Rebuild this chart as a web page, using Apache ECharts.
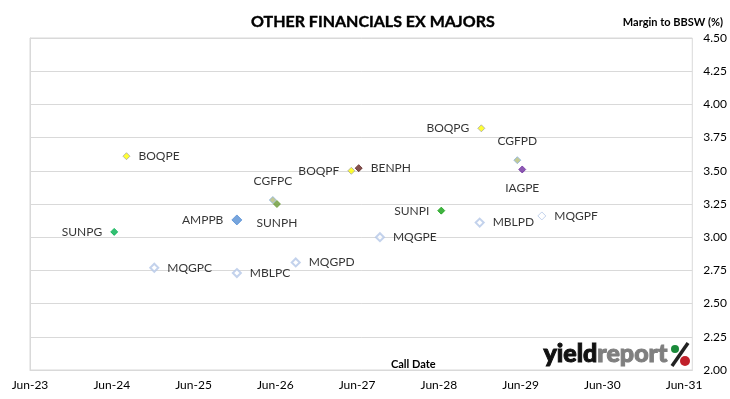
<!DOCTYPE html>
<html>
<head>
<meta charset="utf-8">
<script src="https://cdn.jsdelivr.net/npm/echarts@6/dist/echarts.min.js"></script>
<style>
  html, body { margin: 0; padding: 0; background: #fff; }
  #chart { width: 730px; height: 399px; }
</style>
</head>
<body>
<div id="chart"></div>
<script>
// call date as decimal year, margin to BBSW in %
const names = ['BOQPE', 'BOQPF', 'BENPH', 'CGFPC', 'SUNPH', 'AMPPB', 'SUNPG', 'MQGPC', 'MBLPC',
  'MQGPD', 'BOQPG', 'CGFPD', 'IAGPE', 'SUNPI', 'MBLPD', 'MQGPF', 'MQGPE']
const callDates = [2024.68, 2027.43, 2027.52, 2026.47, 2026.52, 2026.03, 2024.53, 2025.02, 2026.03,
  2026.75, 2029.02, 2029.46, 2029.52, 2028.53, 2029.00, 2029.76, 2027.78]
const margins = [3.61, 3.50, 3.52, 3.28, 3.25, 3.13, 3.04, 2.77, 2.73,
  2.81, 3.82, 3.58, 3.51, 3.20, 3.11, 3.16, 3.00]
const xTickLabels = ['Jun-23', 'Jun-24', 'Jun-25', 'Jun-26', 'Jun-27', 'Jun-28', 'Jun-29', 'Jun-30', 'Jun-31']
const baseYear = 2023.5

const FONT = 'Lato'

// marker look + label side per issuer
const yellow = { fill: '#ffff00', border: '#a6a6a6', size: 7, bw: 1 }
const hollow = { fill: '#ffffff', border: '#b4c7e7', size: 8, bw: 2 }
const styles = {
  BOQPE: { ...yellow, side: 'right' },
  BOQPF: { ...yellow, side: 'left' },
  BOQPG: { ...yellow, side: 'left' },
  BENPH: { fill: '#632523', border: '#632523', size: 7, bw: 1, side: 'right' },
  CGFPC: { fill: '#b3bd7a', border: '#8db4e2', size: 7, bw: 1, side: 'top' },
  CGFPD: { fill: '#b3bd7a', border: '#8db4e2', size: 7, bw: 1, side: 'top' },
  SUNPH: { fill: '#6a9a36', border: '#6a9a36', size: 7, bw: 1, side: 'bottom' },
  AMPPB: { fill: '#558ed5', border: '#558ed5', size: 10, bw: 1, side: 'left' },
  SUNPG: { fill: '#00b050', border: '#00b050', size: 7, bw: 1, side: 'left' },
  SUNPI: { fill: '#12a012', border: '#12a012', size: 7, bw: 1, side: 'left' },
  IAGPE: { fill: '#7030a0', border: '#7030a0', size: 7, bw: 1, side: 'bottom' },
  MQGPC: { ...hollow, side: 'right' },
  MBLPC: { ...hollow, side: 'right' },
  MQGPD: { ...hollow, side: 'right' },
  MQGPE: { ...hollow, side: 'right' },
  MBLPD: { ...hollow, side: 'right' },
  MQGPF: { ...hollow, bw: 1, side: 'right' },
}

const points = names.map((name, i) => {
  const s = styles[name]
  const vertical = s.side === 'top' || s.side === 'bottom'
  return {
    name,
    value: [callDates[i] - baseYear, margins[i]],
    symbolSize: s.size,
    itemStyle: { color: s.fill, borderColor: s.border, borderWidth: s.bw },
    label: { position: s.side, distance: vertical ? 9 : 8 },
  }
})

const chart = echarts.init(document.getElementById('chart'), null, { renderer: 'canvas' })

chart.setOption({
  animation: false,
  textStyle: { fontFamily: FONT },
  title: [
    {
      text: 'OTHER FINANCIALS EX MAJORS',
      left: 246,
      top: 9,
      textStyle: { fontFamily: FONT, fontSize: 16, fontWeight: 'bold', color: '#000', textBorderColor: '#000', textBorderWidth: 0.4 },
    },
    {
      text: 'Margin to BBSW (%)',
      right: 2,
      top: 12,
      textStyle: { fontFamily: FONT, fontSize: 11, fontWeight: 'bold', color: '#000' },
    },
    {
      text: 'Call Date',
      left: 386,
      top: 354,
      textStyle: { fontFamily: FONT, fontSize: 11, fontWeight: 'bold', color: '#000' },
    },
  ],
  grid: {
    left: 30, right: 36, top: 38, bottom: 29,
    show: true, borderColor: '#d9d9d9', borderWidth: 1,
  },
  xAxis: {
    type: 'value',
    min: 0,
    max: 8.1,
    interval: 1,
    axisLine: { show: true, lineStyle: { color: '#d9d9d9' } },
    axisTick: { show: false },
    splitLine: { show: false },
    axisLabel: {
      fontSize: 12,
      color: '#000',
      margin: 9,
      showMaxLabel: false,
      formatter: (v) => (Number.isInteger(v) ? xTickLabels[v] : ''),
    },
  },
  yAxis: {
    type: 'value',
    position: 'right',
    min: 2,
    max: 4.5,
    interval: 0.25,
    axisLine: { show: true, lineStyle: { color: '#d9d9d9' } },
    axisTick: { show: true, length: 5, lineStyle: { color: '#d9d9d9' } },
    splitLine: { lineStyle: { color: '#d9d9d9' } },
    axisLabel: { fontSize: 12, color: '#000', margin: 11, formatter: (v) => v.toFixed(2) },
  },
  graphic: [
    {
      type: 'text',
      left: 543,
      top: 341,
      style: {
        text: '{a|yield}{b|report}',
        rich: {
          a: { fontFamily: FONT, fontSize: 25, fontWeight: 900, fill: '#111', stroke: '#111', lineWidth: 1 },
          b: { fontFamily: FONT, fontSize: 25, fontWeight: 900, fill: '#7f7f7f', stroke: '#7f7f7f', lineWidth: 1 },
        },
      },
    },
    { type: 'line', shape: { x1: 672, y1: 366, x2: 688, y2: 343 }, style: { stroke: '#222', lineWidth: 3.5 } },
    { type: 'circle', shape: { cx: 675, cy: 349, r: 4 }, style: { fill: '#1a8a3a' } },
    { type: 'circle', shape: { cx: 685, cy: 361, r: 5 }, style: { fill: '#c0202a' } },
  ],
  series: [
    {
      type: 'scatter',
      symbol: 'diamond',
      data: points,
      label: {
        show: true,
        formatter: '{b}',
        fontFamily: FONT,
        fontSize: 12,
        color: '#000',
      },
    },
  ],
})
</script>
</body>
</html>
